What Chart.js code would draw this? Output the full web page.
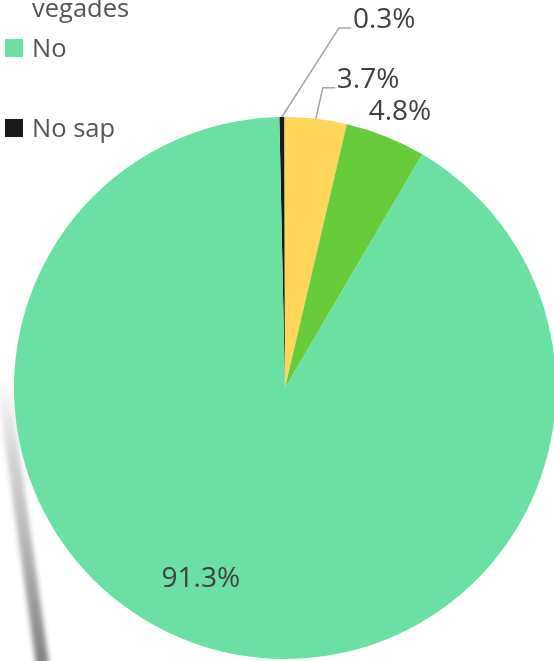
<!DOCTYPE html>
<html><head><meta charset="utf-8">
<script src="https://cdn.jsdelivr.net/npm/chart.js@4"></script>
<style>
html,body{margin:0;padding:0;background:#fff;overflow:hidden;width:554px;height:661px;}
#wrap{position:relative;width:554px;height:661px;overflow:hidden;}
canvas{position:absolute;left:0;top:0;}
.leg{position:absolute;left:32px;font-family:"Open Sans";font-size:25.5px;line-height:25.5px;color:#555555;white-space:nowrap;}
.sw{position:absolute;left:5px;width:18px;height:18px;}
.streak{position:absolute;left:-4px;top:380px;width:13px;height:310px;
  background:linear-gradient(to bottom,rgba(170,170,170,0),rgba(160,160,160,0.45) 25%,rgba(130,130,130,0.6) 55%,rgba(95,95,95,0.85));
  transform:rotate(-8deg);transform-origin:top left;filter:blur(2.5px);}
</style></head>
<body>
<div id="wrap">
  <div class="streak"></div>
  <canvas id="c" width="570" height="661"></canvas>
  <div id="legend"></div>
</div>
<script>
// ---- data ----
const categories = ["No sap", "Sí, alguna vegada", "Sí, moltes vegades", "No"];
const values = [0.3, 3.7, 4.8, 91.3];
const colors = ["#1A1A1A", "#FFD55A", "#66CC3A", "#6BE0A3"];
const legendLabels = ["vegades", "No", "No sap"];
const legendColors = [null, "#6BE0A3", "#1A1A1A"];

// ---- style: label placement relative to each slice's outer midpoint ----
const labelOffsets = [
  {dx: 71, dy: -89, leader: true},
  {dx: 21, dy: -31, leader: true},
  {dx: -17, dy: -16.5, leader: false},
  {dx: -55, dy: -63, leader: false}
];
const legendTops = [-4.6, 35.4, 115];
const swatchTops = [null, 39, 119];

const leg = document.getElementById('legend');
legendLabels.forEach((t, i) => {
  const s = document.createElement('div');
  s.className = 'leg'; s.style.top = legendTops[i] + 'px'; s.textContent = t;
  leg.appendChild(s);
  if (legendColors[i]) {
    const b = document.createElement('div');
    b.className = 'sw'; b.style.top = swatchTops[i] + 'px'; b.style.background = legendColors[i];
    leg.appendChild(b);
  }
});

const labelPlugin = {
  id: 'pieLabels',
  afterDatasetsDraw(chart) {
    const ctx = chart.ctx;
    const meta = chart.getDatasetMeta(0);
    ctx.save();
    ctx.font = '28px "Open Sans"';
    ctx.textAlign = 'left';
    ctx.textBaseline = 'alphabetic';
    meta.data.forEach((arc, i) => {
      const mid = (arc.startAngle + arc.endAngle) / 2;
      const ox = arc.x + Math.cos(mid) * arc.outerRadius;
      const oy = arc.y + Math.sin(mid) * arc.outerRadius;
      const o = labelOffsets[i];
      const tx = ox + o.dx, ty = oy + o.dy;
      if (o.leader) {
        ctx.beginPath();
        ctx.strokeStyle = '#A6A6A6';
        ctx.lineWidth = 1.5;
        ctx.moveTo(ox, oy);
        ctx.lineTo(tx - 14, ty);
        ctx.lineTo(tx - 1.5, ty);
        ctx.stroke();
      }
      ctx.fillStyle = '#404040';
      ctx.fillText(values[i].toFixed(1) + '%', tx, ty);
    });
    ctx.restore();
  }
};

function draw() {
  new Chart(document.getElementById('c'), {
    type: 'pie',
    data: {
      labels: categories,
      datasets: [{data: values, backgroundColor: colors, borderWidth: 0}]
    },
    options: {
      responsive: false,
      animation: false,
      events: [],
      rotation: -1.2,
      layout: {padding: {top: 117, bottom: 2, left: 0, right: 0}},
      plugins: {legend: {display: false}, tooltip: {enabled: false}}
    },
    plugins: [labelPlugin]
  });
}
if (document.fonts && document.fonts.load) {
  document.fonts.load('28px "Open Sans"').then(draw, draw);
} else draw();
</script>
</body></html>
